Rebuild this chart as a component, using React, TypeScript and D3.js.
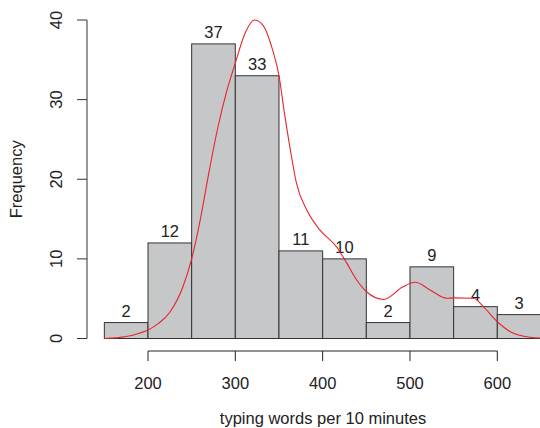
import React from "react";
import * as d3 from "d3";

const binEdges = [150, 200, 250, 300, 350, 400, 450, 500, 550, 600, 650];
const counts = [2, 12, 37, 33, 11, 10, 2, 9, 4, 3];
const xTicks = [200, 300, 400, 500, 600];
const yTicks = [0, 10, 20, 30, 40];
const densityX = [150, 175, 191, 200, 212, 225, 240, 250, 260, 270, 280, 290, 300, 311, 322, 332, 342, 350, 356, 363, 370, 382, 397, 416, 428, 439, 450, 470, 492, 506, 523, 542, 550, 573, 584, 600, 615, 638, 650];
const densityY = [0, 0.25, 0.7, 1.07, 1.9, 3.3, 6.5, 10, 15, 21, 26.5, 31, 34.6, 38.3, 40, 39.3, 36.5, 33, 28.5, 23.7, 19.5, 16.1, 13.6, 11.5, 9.4, 7.35, 5.9, 4.9, 6.5, 7.06, 6.1, 5.05, 5.1, 5.05, 4.0, 2.1, 0.85, 0.15, 0.05];

export default function App() {
  const W = 540, H = 428;
  const x = d3.scaleLinear().domain([200, 600]).range([148, 497.3]);
  const y = d3.scaleLinear().domain([0, 40]).range([338.5, 20]);
  const line = d3
    .line<number>()
    .x((_, i) => x(densityX[i]))
    .y((d) => y(d))
    .curve(d3.curveMonotoneX);
  const font = "Liberation Sans, Arial, Helvetica, sans-serif";
  const fs = 16.5;
  const axisY = 351;
  return (
    <svg width={W} height={H} style={{ position: "absolute", left: 0, top: 0, background: "#fff" }} fontFamily={font}>
      {counts.map((c, i) => {
        const x0 = x(binEdges[i]);
        const x1 = x(binEdges[i + 1]);
        return (
          <g key={i}>
            <rect x={x0} y={y(c)} width={x1 - x0} height={y(0) - y(c)} fill="#c6c7c8" stroke="#333" strokeWidth={1} />
            <text x={(x0 + x1) / 2} y={y(c) - 6} textAnchor="middle" fontSize={fs} fill="#222">
              {c}
            </text>
          </g>
        );
      })}
      <path d={line(densityY) || ""} fill="none" stroke="#e8242a" strokeWidth={1.1} />
      {/* x axis */}
      <line x1={x(200)} x2={x(600)} y1={axisY} y2={axisY} stroke="#222" />
      {xTicks.map((t) => (
        <g key={t}>
          <line x1={x(t)} x2={x(t)} y1={axisY} y2={axisY + 10} stroke="#222" />
          <text x={x(t)} y={axisY + 37.5} textAnchor="middle" fontSize={fs} fill="#222">
            {t}
          </text>
        </g>
      ))}
      {/* y axis */}
      <line x1={87} x2={87} y1={y(0)} y2={y(40)} stroke="#333" />
      {yTicks.map((t) => (
        <g key={t}>
          <line x1={77} x2={87} y1={y(t)} y2={y(t)} stroke="#333" />
          <text transform={`translate(61.5,${y(t)}) rotate(-90)`} textAnchor="middle" fontSize={fs} fill="#222">
            {t}
          </text>
        </g>
      ))}
      <text transform={`translate(22,${(y(0) + y(40)) / 2}) rotate(-90)`} textAnchor="middle" fontSize={fs} fill="#222">
        Frequency
      </text>
      <text x={323} y={424} textAnchor="middle" fontSize={fs} fill="#222">
        typing words per 10 minutes
      </text>
    </svg>
  );
}
